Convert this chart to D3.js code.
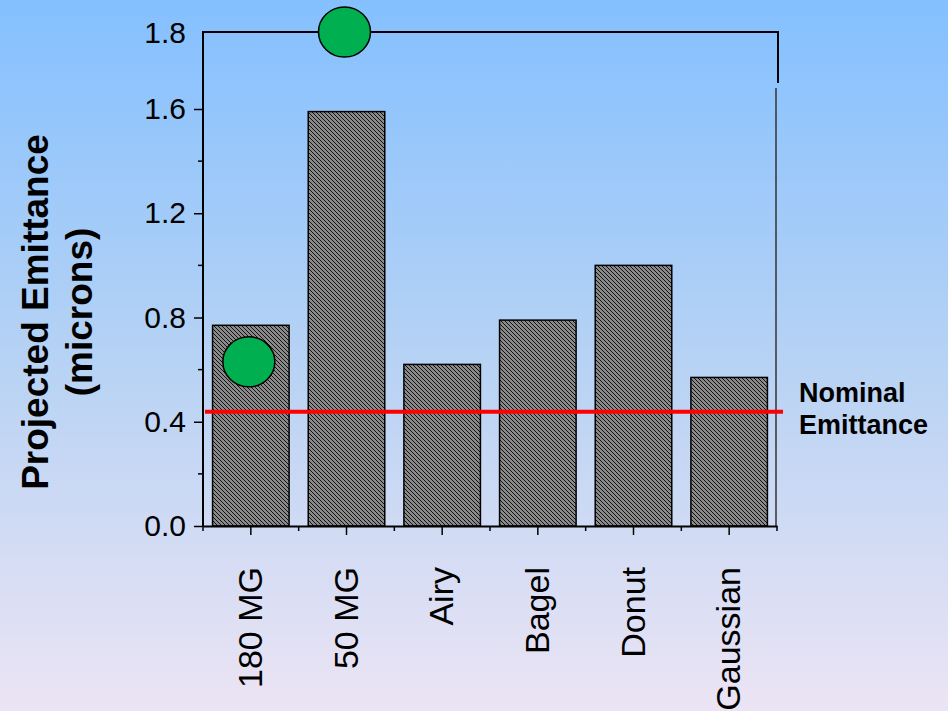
<!DOCTYPE html>
<html>
<head>
<meta charset="utf-8">
<script src="https://cdn.jsdelivr.net/npm/d3@7"></script>
<style>
  body { margin: 0; padding: 0; overflow: hidden; }
  svg { display: block; font-family: "Liberation Sans", Arial, sans-serif; }
</style>
</head>
<body>
<svg id="chart" width="948" height="711"></svg>
<script>
// chart data
var categories = ['180 MG', '50 MG', 'Airy', 'Bagel', 'Donut', 'Gaussian'];
var emittance = [0.77, 1.59, 0.62, 0.79, 1.00, 0.57];
// green markers (the 50 MG one sits on the axis break at 1.8)
var markerCats = ['180 MG', '50 MG'];
var markerValues = [0.63, 1.8];
var nominalEmittance = 0.438;
var yTicks = [0.0, 0.4, 0.8, 1.2, 1.6];
var yMinorTicks = [0.2, 0.6, 1.0, 1.4];
var yBreakLabel = 1.8;

var svg = d3.select('#chart');
var svgWidth = +svg.attr('width');
var svgHeight = +svg.attr('height');

var plot = {l: 203, r: 777, t: 32, b: 526};

// background gradient
var defs = svg.append('defs');
var grad = defs.append('linearGradient')
    .attr('id', 'bg').attr('x1', 0).attr('y1', 0).attr('x2', 0).attr('y2', 1);
grad.append('stop').attr('offset', '0%').attr('stop-color', '#84c0ff');
grad.append('stop').attr('offset', '50%').attr('stop-color', '#b6d2f4');
grad.append('stop').attr('offset', '100%').attr('stop-color', '#ece4f4');

// hatch for the bars
var hatch = defs.append('pattern')
    .attr('id', 'hatch')
    .attr('patternUnits', 'userSpaceOnUse')
    .attr('width', 4).attr('height', 4);
hatch.append('rect').attr('width', 4).attr('height', 4).attr('fill', '#8a8a8a');
hatch.append('path')
    .attr('d', 'M0,0L4,4M-1,3L1,5M3,-1L5,1')
    .attr('stroke', '#111').attr('stroke-width', 1);

svg.append('rect')
    .attr('width', svgWidth).attr('height', svgHeight)
    .attr('fill', 'url(#bg)');

// scales - y has a break between 1.6 and the top line at 1.8
var x = d3.scaleBand()
    .domain(categories)
    .range([plot.l, plot.r])
    .paddingInner(0.2)
    .paddingOuter(0.1);

var y = d3.scaleLinear()
    .domain([0, 1.6, 1.8])
    .range([plot.b, 109, plot.t]);

var g = svg.append('g');

// frame: top box plus the right edge
g.append('path')
    .attr('d', 'M' + plot.l + ',' + (plot.t + 50) + 'V' + plot.t + 'H' + (plot.r + 1) + 'V' + (plot.t + 51))
    .attr('fill', 'none').attr('stroke', '#000').attr('stroke-width', 2);
g.append('line')
    .attr('x1', plot.r - 1).attr('x2', plot.r - 1)
    .attr('y1', 88).attr('y2', plot.b)
    .attr('stroke', '#333').attr('stroke-width', 1.5);

// bars
g.selectAll('rect.bar')
    .data(categories)
    .enter()
    .append('rect')
    .attr('class', 'bar')
    .attr('x', function(d) { return x(d); })
    .attr('y', function(d, i) { return y(emittance[i]); })
    .attr('width', x.bandwidth())
    .attr('height', function(d, i) { return y(0) - y(emittance[i]); })
    .attr('fill', 'url(#hatch)')
    .attr('stroke', '#000')
    .attr('stroke-width', 1.5);

// y axis
var yAxis = d3.axisLeft(y)
    .tickValues(yTicks)
    .tickSize(9)
    .tickFormat(d3.format('.1f'));
var yAxisG = g.append('g')
    .attr('transform', 'translate(' + plot.l + ',0)')
    .call(yAxis);
yAxisG.select('.domain').attr('d', 'M0,' + plot.t + 'V' + plot.b).attr('stroke-width', 2);
yAxisG.selectAll('.tick line').attr('stroke-width', 1.5);
yAxisG.selectAll('.tick text')
    .attr('x', -17)
    .attr('font-size', 30)
    .attr('font-family', '"Liberation Sans", Arial, sans-serif')
    .attr('fill', '#000');

g.append('g')
    .attr('transform', 'translate(' + plot.l + ',0)')
    .selectAll('line')
    .data(yMinorTicks)
    .enter()
    .append('line')
    .attr('x1', -5).attr('x2', 0)
    .attr('y1', function(d) { return y(d); })
    .attr('y2', function(d) { return y(d); })
    .attr('stroke', '#000').attr('stroke-width', 1.5);

g.append('text')
    .attr('x', plot.l - 17)
    .attr('y', y(yBreakLabel))
    .attr('dy', '0.35em')
    .attr('text-anchor', 'end')
    .attr('font-size', 30)
    .text(d3.format('.1f')(yBreakLabel));

// x axis
var xAxis = d3.axisBottom(x).tickSize(9).tickSizeOuter(0).tickFormat('');
var xAxisG = g.append('g')
    .attr('transform', 'translate(0,' + plot.b + ')')
    .call(xAxis);
xAxisG.select('.domain').attr('stroke-width', 2);
xAxisG.selectAll('.tick line').attr('stroke-width', 1.5);

// minor x ticks at the band edges
var edges = categories.map(function(d) { return x(d) - x.step() * x.paddingInner() / 2; });
edges.push(plot.r);
xAxisG.selectAll('line.minor')
    .data(edges)
    .enter()
    .append('line')
    .attr('class', 'minor')
    .attr('x1', function(d) { return d; }).attr('x2', function(d) { return d; })
    .attr('y1', 0).attr('y2', 5)
    .attr('stroke', '#000').attr('stroke-width', 1.5);

g.selectAll('text.xlab')
    .data(categories)
    .enter()
    .append('text')
    .attr('class', 'xlab')
    .attr('transform', function(d) {
        return 'translate(' + (x(d) + x.bandwidth() / 2) + ',567) rotate(-90)';
    })
    .attr('dy', '0.33em')
    .attr('text-anchor', 'end')
    .attr('font-size', 34)
    .text(function(d) { return d; });

// nominal emittance line
g.append('line')
    .attr('x1', 205).attr('x2', 783)
    .attr('y1', y(nominalEmittance)).attr('y2', y(nominalEmittance))
    .attr('stroke', '#ff0000').attr('stroke-width', 4);

g.append('text')
    .attr('x', 799).attr('y', 402)
    .attr('font-size', 27).attr('font-weight', 'bold')
    .text('Nominal');
g.append('text')
    .attr('x', 799).attr('y', 434)
    .attr('font-size', 27).attr('font-weight', 'bold')
    .text('Emittance');

// green markers
g.selectAll('ellipse.marker')
    .data(markerCats)
    .enter()
    .append('ellipse')
    .attr('class', 'marker')
    .attr('cx', function(d) { return x(d) + x.bandwidth() / 2 - 2; })
    .attr('cy', function(d, i) { return y(markerValues[i]); })
    .attr('rx', 26).attr('ry', 25)
    .attr('fill', '#00b050')
    .attr('stroke', '#000').attr('stroke-width', 1.5);

// y axis title
var yTitle = g.append('text')
    .attr('transform', 'translate(48,312) rotate(-90)')
    .attr('text-anchor', 'middle')
    .attr('font-size', 37).attr('font-weight', 'bold');
yTitle.append('tspan').attr('x', 0).attr('y', 0).text('Projected Emittance');
yTitle.append('tspan').attr('x', 0).attr('y', 44).text('(microns)');
</script>
</body>
</html>
